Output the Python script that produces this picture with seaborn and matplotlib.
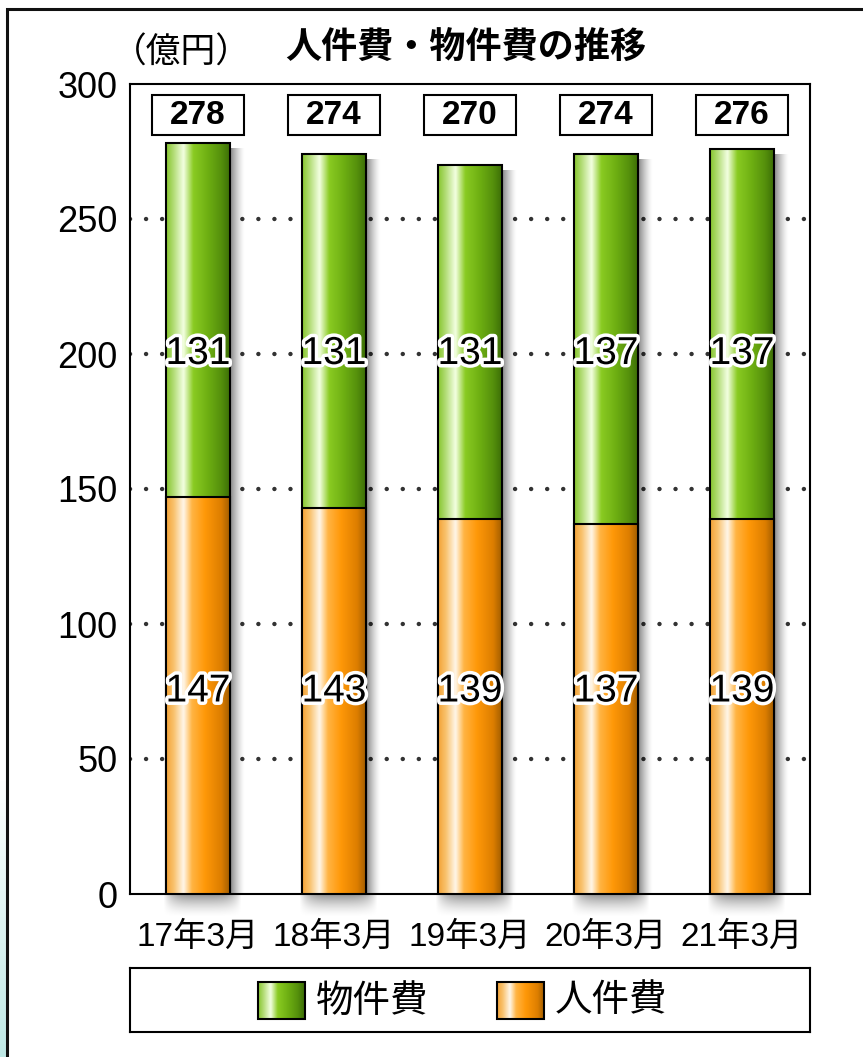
import numpy as np
import pandas as pd
import matplotlib
matplotlib.use("Agg")
import matplotlib.pyplot as plt
import seaborn as sns
from matplotlib import font_manager
from matplotlib.colors import LinearSegmentedColormap
from matplotlib.patches import Rectangle
import matplotlib.patheffects as pe

# ---- data (億円) ----
periods = ["17年3月", "18年3月", "19年3月", "20年3月", "21年3月"]
personnel = [147, 143, 139, 137, 139]   # 人件費
materials = [131, 131, 131, 137, 137]   # 物件費
totals = [278, 274, 270, 274, 276]
yticks = [0, 50, 100, 150, 200, 250, 300]
series_names = ["物件費", "人件費"]

sns.set_theme(style="white")
installed = {f.name for f in font_manager.fontManager.ttflist}
NARROW = "Liberation Sans Narrow" if "Liberation Sans Narrow" in installed else "Liberation Sans"
JP = "Noto Sans CJK JP"
plt.rcParams["font.family"] = [NARROW, JP, "DejaVu Sans"]

orange_cmap = LinearSegmentedColormap.from_list(
    "orange_tube",
    [(0.0, "#F3A235"), (0.12, "#F9C26E"), (0.27, "#FFF7EA"), (0.40, "#FFB443"),
     (0.60, "#FF9808"), (0.85, "#DD7E00"), (1.0, "#9C5A00")])
green_cmap = LinearSegmentedColormap.from_list(
    "green_tube",
    [(0.0, "#86C52C"), (0.12, "#B4DD78"), (0.27, "#F3FFE2"), (0.42, "#8ACB22"),
     (0.65, "#6DAE12"), (0.85, "#55900C"), (1.0, "#3A6B06")])

fig = plt.figure(figsize=(8.63, 10.57), dpi=100)
fig.patch.set_facecolor("white")

# faint teal strip along the lower left edge
strip = fig.add_axes([0, 0, 6 / 863, 280 / 1057])
strip.imshow(np.linspace(0, 1, 64)[:, None],
             cmap=LinearSegmentedColormap.from_list("s", ["#BFE9E6", "#FFFFFF"]),
             aspect="auto", extent=[0, 1, 0, 1], origin="lower")
strip.set_axis_off()

# outer frame
fig.add_artist(Rectangle((7 / 863, -0.05), 1.2, 0.9915 + 0.05, transform=fig.transFigure,
                         fill=False, ec="#111111", lw=2.2, clip_on=False))

ax = fig.add_axes([130 / 863, 1 - 894 / 1057, 680 / 863, 810 / 1057])

df = pd.DataFrame({"period": periods, "total": totals, "personnel": personnel})
BAR_W = 0.476
sns.barplot(data=df, x="period", y="total", color="#7DBE22", width=BAR_W,
            errorbar=None, edgecolor="black", linewidth=1.5, ax=ax, zorder=3)
sns.barplot(data=df, x="period", y="personnel", color="#FF9A10", width=BAR_W,
            errorbar=None, edgecolor="black", linewidth=1.5, ax=ax, zorder=4)

grad = np.linspace(0, 1, 256)[None, :]
n = len(periods)
green_patches = ax.patches[:n]
orange_patches = ax.patches[n:2 * n]

# soft drop shadows on the right of and beneath each bar
shadow = np.zeros((1, 64, 4))
shadow[0, :, 3] = np.linspace(0.6, 0.0, 64) ** 1.4
vy = np.linspace(1.0, 0.0, 32)[:, None] ** 1.6      # darkest right under the bar
hx = np.linspace(-1, 1, 64)[None, :]
bshadow = np.zeros((32, 64, 4))
bshadow[..., 3] = 0.45 * vy * np.clip(1 - hx ** 4, 0, 1)
for p in green_patches:
    x0, w, h = p.get_x(), p.get_width(), p.get_height()
    ax.imshow(shadow, extent=[x0 + w, x0 + w + 0.11, 0, h - 2], aspect="auto",
              interpolation="bilinear", zorder=1.5)
    ax.imshow(bshadow, extent=[x0 - 0.02, x0 + w + 0.08, -9, 0], aspect="auto",
              interpolation="bilinear", zorder=1.5, clip_on=False)

# tube-like gradient fills clipped to each bar
for patches, cmap, z in ((green_patches, green_cmap, 2.8), (orange_patches, orange_cmap, 3.8)):
    for p in patches:
        x0, y0, w, h = p.get_x(), p.get_y(), p.get_width(), p.get_height()
        im = ax.imshow(grad, cmap=cmap, extent=[x0, x0 + w, y0, y0 + h], aspect="auto",
                       interpolation="bicubic", zorder=z)
        im.set_clip_path(p)
        p.set_facecolor("none")

ax.set_xlim(-0.5, n - 0.5)
ax.set_ylim(0, 300)
ax.set_yticks(yticks)
ax.set_yticklabels([str(v) for v in yticks], fontsize=26)
ax.set_xticks(range(n))
ax.set_xticklabels(periods, fontsize=24)
ax.set_xlabel("")
ax.set_ylabel("")
ax.tick_params(axis="y", length=0, pad=9, colors="black")
ax.tick_params(axis="x", which="major", length=0, pad=20, colors="black")
ax.set_xticks(np.arange(0.5, n - 1, 1.0), minor=True)
ax.tick_params(axis="x", which="minor", direction="in", length=11, width=1.4, color="black")

# dotted grid lines
for v in yticks[1:-1]:
    ax.axhline(v, color="#333333", lw=3.2, ls=(0, (0.01, 3.6)), dash_capstyle="round", zorder=1)

for s in ax.spines.values():
    s.set_color("black")
    s.set_linewidth(1.5)
    s.set_visible(True)

# values inside the bars
halo = [pe.withSimplePatchShadow(offset=(1.5, -1.5), shadow_rgbFace="#888888", alpha=0.6),
        pe.withStroke(linewidth=5, foreground="white")]
for i in range(n):
    ax.text(i, 200, str(materials[i]), ha="center", va="center", fontsize=28,
            color="black", path_effects=halo, zorder=7)
    ax.text(i, 75, str(personnel[i]), ha="center", va="center", fontsize=28,
            color="black", path_effects=halo, zorder=7)

# totals in boxes above the bars
for i in range(n):
    ax.add_patch(Rectangle((i - 0.337, 281), 0.674, 15, fc="white", ec="black",
                           lw=1.5, zorder=6, clip_on=False))
    ax.text(i, 288.5, str(totals[i]), ha="center", va="center", fontsize=24,
            fontweight="bold", color="black", zorder=7)

fig.text(466 / 863, 1 - 48 / 1057, "人件費・物件費の推移", fontsize=26, fontweight="bold",
         family=[JP], ha="center", va="center", color="black")
fig.text(112 / 863, 1 - 53 / 1057, "（億円）", fontsize=25, family=[JP],
         ha="left", va="center", color="black")

# legend box
lax = fig.add_axes([130 / 863, 1 - 1032 / 1057, 680 / 863, 64 / 1057])
lax.set_xlim(0, 680)
lax.set_ylim(0, 64)
lax.set_xticks([])
lax.set_yticks([])
for s in lax.spines.values():
    s.set_color("black")
    s.set_linewidth(1.5)
for name, cmap, hx0, tx in ((series_names[0], green_cmap, 128, 186),
                            (series_names[1], orange_cmap, 367, 425)):
    r = Rectangle((hx0, 13), 47, 37, fc="none", ec="black", lw=1.5, zorder=3)
    lax.add_patch(r)
    im = lax.imshow(grad, cmap=cmap, extent=[hx0, hx0 + 47, 13, 50], aspect="auto",
                    interpolation="bicubic", zorder=2)
    im.set_clip_path(r)
    lax.text(tx, 31, name, fontsize=27, family=[JP], ha="left", va="center", color="black")
lax.set_xlim(0, 680)
lax.set_ylim(0, 64)

fig.savefig("out.png", dpi=100)
